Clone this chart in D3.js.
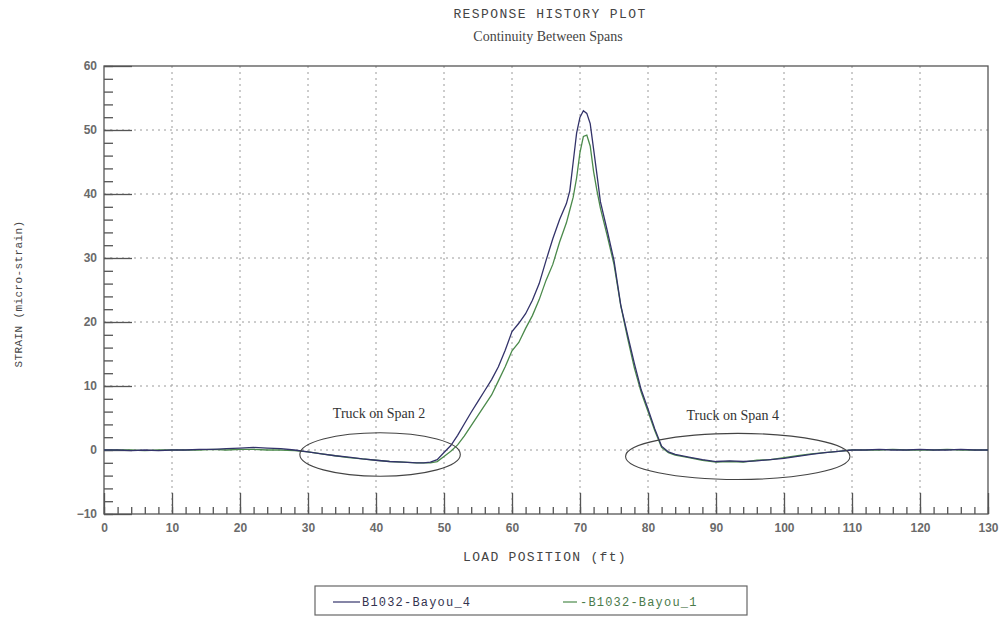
<!DOCTYPE html>
<html>
<head>
<meta charset="utf-8">
<script src="https://cdn.jsdelivr.net/npm/d3@7"></script>
<style>
  body { margin: 0; background: #fff; }
</style>
</head>
<body>
<script>
// load position (ft)
const loadPos = [0, 2, 4, 6, 8, 10, 12, 14, 16, 18, 20, 22, 24, 26, 28, 30, 32, 34, 36, 38, 40, 42, 44, 46,
  47, 48, 49, 50, 51, 52, 53, 54, 55, 56, 57, 58, 59, 60, 61, 62, 63, 64, 65, 66, 67, 68,
  68.5, 69, 69.5, 70, 70.5, 71, 71.5, 72, 72.5, 73,
  74, 75, 76, 77, 78, 79, 80, 81, 82, 83, 84,
  86, 88, 90, 92, 94, 96, 98, 100, 102, 104, 106, 108, 110, 112, 114, 116, 118, 120, 122, 124, 126, 128, 130];

// strain (micro-strain)
const bayou4 = [0.0, 0.0, -0.1, 0.0, -0.1, 0.0, 0.0, 0.1, 0.1, 0.2, 0.3, 0.4, 0.3, 0.2, 0.0, -0.3, -0.6, -0.9, -1.1, -1.4, -1.6, -1.8, -1.9, -2.0,
  -2.0, -1.9, -1.5, -0.4, 0.7, 2.3, 4.1, 5.9, 7.6, 9.3, 11.0, 13.0, 15.6, 18.5, 19.8, 21.3, 23.4, 26.0, 29.6, 33.0, 36.0, 38.5,
  40.5, 45.0, 49.5, 52.0, 53.0, 52.6, 51.0, 47.0, 43.0, 38.8,
  34.3, 29.6, 22.6, 18.0, 13.5, 9.4, 6.4, 3.3, 0.6, -0.3, -0.7,
  -1.1, -1.5, -1.8, -1.7, -1.8, -1.7, -1.5, -1.3, -1.0, -0.7, -0.4, -0.2, 0.0, 0.0, 0.1, 0.0, 0.0, 0.1, 0.0, 0.0, 0.1, 0.0, 0.0];

const bayou1 = [0.0, 0.0, 0.0, -0.1, 0.0, 0.0, 0.0, 0.0, 0.1, 0.0, 0.1, 0.1, 0.0, 0.0, -0.1, -0.3, -0.6, -0.9, -1.2, -1.4, -1.6, -1.8, -1.9, -2.0,
  -2.0, -2.0, -1.8, -1.0, -0.2, 0.8, 2.2, 3.8, 5.4, 7.0, 8.6, 10.8, 13.0, 15.5, 16.8, 19.0, 21.0, 23.5, 26.5, 29.0, 32.5, 35.5,
  37.5, 39.5, 42.5, 46.5, 49.0, 49.2, 47.5, 43.5, 40.5, 37.8,
  33.5, 29.0, 22.5, 17.5, 12.8, 9.0, 6.0, 3.0, 0.4, -0.4, -0.8,
  -1.2, -1.6, -1.9, -1.8, -1.9, -1.6, -1.5, -1.2, -0.9, -0.6, -0.4, -0.2, 0.0, 0.0, 0.0, 0.1, 0.0, 0.0, 0.0, 0.1, 0.0, 0.0, 0.0];

const seriesNames = ['B1032-Bayou_4', 'B1032-Bayou_1'];
const xTicks = [0, 10, 20, 30, 40, 50, 60, 70, 80, 90, 100, 110, 120, 130];
const yTicks = [-10, 0, 10, 20, 30, 40, 50, 60];

// annotation ellipses: label, centre (ft, strain), half-width (ft), half-height (strain)
const noteLabels = ['Truck on Span 2', 'Truck on Span 4'];
const noteCx = [40.6, 93.2];
const noteCy = [-0.7, -1.0];
const noteRx = [11.8, 16.5];
const noteRy = [3.4, 3.6];

const width = 1000;
const height = 617;
const margin = { top: 66, right: 12, bottom: 103, left: 104 };
const colors = ['#33336a', '#4b8a4b'];

const svg = d3.select('body').append('svg')
  .attr('width', width)
  .attr('height', height);

const chartW = width - margin.left - margin.right;
const chartH = height - margin.top - margin.bottom;

const x = d3.scaleLinear().domain([0, 130]).range([0, chartW]);
const y = d3.scaleLinear().domain([-10, 60]).range([chartH, 0]);

const g = svg.append('g').attr('transform', `translate(${margin.left},${margin.top})`);

// dotted grid
g.append('g').selectAll('line').data(xTicks.slice(1, -1)).join('line')
  .attr('x1', d => x(d)).attr('x2', d => x(d))
  .attr('y1', 0).attr('y2', chartH)
  .attr('stroke', '#9a9a9a').attr('stroke-dasharray', '2,4');
g.append('g').selectAll('line').data(yTicks.slice(1, -1)).join('line')
  .attr('x1', 0).attr('x2', chartW)
  .attr('y1', d => y(d)).attr('y2', d => y(d))
  .attr('stroke', '#9a9a9a').attr('stroke-dasharray', '2,4');

// minor ticks (every 2) and major ticks (every 10), drawn inside the frame
function styleAxis(sel) {
  sel.select('.domain').remove();
  sel.selectAll('line').attr('stroke', '#555').attr('stroke-width', 1.3);
}
g.append('g').attr('transform', `translate(0,${chartH})`)
  .call(d3.axisBottom(x).tickValues(d3.range(0, 131, 2)).tickSize(-7).tickFormat(''))
  .call(styleAxis);
g.append('g')
  .call(d3.axisLeft(y).tickValues(d3.range(-10, 61, 2)).tickSize(-9).tickFormat(''))
  .call(styleAxis);

const xAxis = g.append('g').attr('transform', `translate(0,${chartH})`)
  .call(d3.axisBottom(x).tickValues(xTicks).tickSize(-21).tickPadding(9));
xAxis.call(styleAxis);
const yAxis = g.append('g')
  .call(d3.axisLeft(y).tickValues(yTicks).tickSize(-28).tickPadding(7));
yAxis.call(styleAxis);
g.selectAll('.tick text')
  .attr('font-family', '"Liberation Sans", Arial, sans-serif')
  .attr('font-size', 12)
  .attr('font-weight', 'bold')
  .attr('fill', '#6a6a6a');

// frame
g.append('rect')
  .attr('width', chartW).attr('height', chartH)
  .attr('fill', 'none').attr('stroke', '#555').attr('stroke-width', 1.3);

// series
const line = d3.line()
  .x((d, i) => x(loadPos[i]))
  .y(d => y(d));
[bayou1, bayou4].forEach((s, k) => {
  g.append('path')
    .datum(s)
    .attr('fill', 'none')
    .attr('stroke', k === 0 ? colors[1] : colors[0])
    .attr('stroke-width', 1.3)
    .attr('d', line);
});

// annotations
noteLabels.forEach((t, i) => {
  g.append('ellipse')
    .attr('cx', x(noteCx[i])).attr('cy', y(noteCy[i]))
    .attr('rx', x(noteRx[i]) - x(0)).attr('ry', y(0) - y(noteRy[i]))
    .attr('fill', 'none').attr('stroke', '#444').attr('stroke-width', 1.1);
  g.append('text')
    .attr('x', x(noteCx[i]) - (i === 0 ? 1 : 5))
    .attr('y', y(noteCy[i]) - 36)
    .attr('text-anchor', 'middle')
    .attr('font-family', '"Liberation Serif", "Times New Roman", serif')
    .attr('font-size', 14)
    .attr('fill', '#333')
    .text(t);
});

// titles
const mono = '"Liberation Mono", "Courier New", monospace';
svg.append('text')
  .attr('x', 550).attr('y', 18)
  .attr('text-anchor', 'middle')
  .attr('font-family', mono).attr('font-size', 13)
  .attr('letter-spacing', 1.4).attr('fill', '#444')
  .text('RESPONSE HISTORY PLOT');
svg.append('text')
  .attr('x', 548).attr('y', 41)
  .attr('text-anchor', 'middle')
  .attr('font-family', '"Liberation Serif", "Times New Roman", serif')
  .attr('font-size', 14).attr('fill', '#444')
  .text('Continuity Between Spans');
svg.append('text')
  .attr('x', 545).attr('y', 561)
  .attr('text-anchor', 'middle')
  .attr('font-family', mono).attr('font-size', 13)
  .attr('letter-spacing', 1.3).attr('fill', '#444')
  .text('LOAD POSITION (ft)');
svg.append('text')
  .attr('transform', 'translate(22,294) rotate(-90)')
  .attr('text-anchor', 'middle')
  .attr('font-family', mono).attr('font-size', 11)
  .attr('letter-spacing', 0.4).attr('fill', '#444')
  .text('STRAIN (micro-strain)');

// legend
const legend = svg.append('g');
legend.append('rect')
  .attr('x', 315).attr('y', 586).attr('width', 432).attr('height', 29)
  .attr('fill', 'none').attr('stroke', '#666').attr('stroke-width', 1.2);
const legX = [333, 563];
seriesNames.forEach((name, i) => {
  legend.append('line')
    .attr('x1', legX[i]).attr('x2', legX[i] + (i === 0 ? 27 : 14))
    .attr('y1', 602).attr('y2', 602)
    .attr('stroke', colors[i]).attr('stroke-width', 1.2);
  legend.append('text')
    .attr('x', legX[i] + (i === 0 ? 29 : 17)).attr('y', 606)
    .attr('font-family', mono).attr('font-size', 12)
    .attr('letter-spacing', 1.2)
    .attr('fill', i === 0 ? '#33334f' : '#4a7a4a')
    .text(i === 0 ? name : '-' + name);
});
</script>
</body>
</html>
